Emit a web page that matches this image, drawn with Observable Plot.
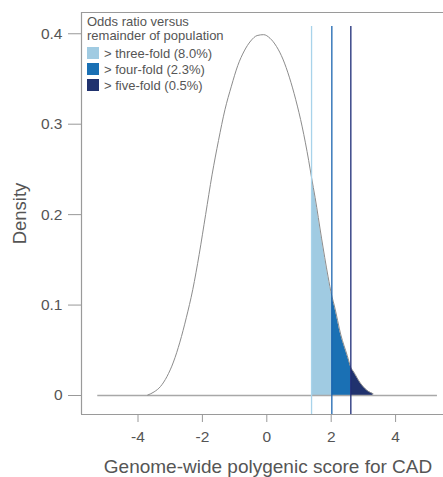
<!DOCTYPE html>
<html><head><meta charset="utf-8">
<script src="https://cdn.jsdelivr.net/npm/d3@7"></script>
<script src="https://cdn.jsdelivr.net/npm/@observablehq/plot@0.6"></script>
<style>
body{margin:0;background:#fff;font-family:"Liberation Sans",Arial,sans-serif;}
#wrap{position:relative;width:443px;height:477px;}
#legend{position:absolute;left:87px;top:15px;color:#555;font-size:13px;}
#legend .ttl{line-height:14px;white-space:nowrap;}
#legend .rows{margin-top:2px;}
#legend .row{display:flex;align-items:center;height:16px;white-space:nowrap;}
#legend .sw{width:12px;height:12px;margin-right:5px;}
svg [aria-label="x-axis tick"], svg [aria-label="y-axis tick"]{stroke:#999;}
</style></head><body><div id="wrap"></div>
<script>
// Density curve
const scoreX = [-3.7,-3.5,-3.3,-3.1,-2.9,-2.7,-2.5,-2.3,-2.1,-1.9,-1.7,-1.5,-1.3,-1.1,-0.9,-0.7,-0.5,-0.3,-0.1,0.1,0.3,0.5,0.7,0.9,1.1,1.3,1.5,1.7,1.9,2.1,2.3,2.5,2.7,2.9,3.1,3.3];
const density = [0.0005,0.004,0.010,0.021,0.037,0.059,0.086,0.117,0.156,0.200,0.244,0.282,0.316,0.342,0.365,0.381,0.392,0.398,0.399,0.395,0.386,0.372,0.352,0.327,0.297,0.260,0.219,0.174,0.132,0.099,0.067,0.044,0.026,0.014,0.006,0.002];
// Thresholds (odds-ratio cut-offs) and curve height there
const thresholdX = [1.39, 2.02, 2.61];
const thresholdDensity = [0.241, 0.110, 0.031];
const bandLabels = ["> three-fold (8.0%)", "> four-fold (2.3%)", "> five-fold (0.5%)"];
const bandFill = ["#a0cbe2", "#1a70b4", "#20326e"];
const bandLine = ["#a8d3ea", "#1c66b0", "#1d2c78"];
const legendTitle = ["Odds ratio versus", "remainder of population"];
const xTicks = [-4, -2, 0, 2, 4];
const yTicks = [0, 0.1, 0.2, 0.3, 0.4];
const xLabel = "Genome-wide polygenic score for CAD";
const yLabel = "Density";
const baselineX = [-5.25, 5.3];
const lineTop = 0.408;

const xDomain = [-5.755, 5.488];
const yDomain = [-0.021, 0.4235];

const pts = scoreX.map((x, i) => ({x, y: density[i]}))
  .concat(thresholdX.map((x, i) => ({x, y: thresholdDensity[i]})))
  .sort((a, b) => a.x - b.x);

const bandMarks = thresholdX.map((lo, i) => {
  const hi = i + 1 < thresholdX.length ? thresholdX[i + 1] : Infinity;
  return Plot.areaY(pts.filter(p => p.x >= lo && p.x <= hi), {x: "x", y: "y", fill: bandFill[i], curve: "monotone-x"});
});

const chart = Plot.plot({
  width: 443, height: 477,
  marginLeft: 81, marginRight: 0, marginTop: 12, marginBottom: 63,
  style: {fontFamily: '"Liberation Sans", Arial, sans-serif', fontSize: "15.5px", background: "#fff"},
  x: {domain: xDomain},
  y: {domain: yDomain},
  marks: [
    ...bandMarks,
    Plot.ruleY([0], {x1: baselineX[0], x2: baselineX[1], stroke: "#a8a8a8", strokeWidth: 1.6}),
    Plot.line(pts, {x: "x", y: "y", stroke: "#8c8c8c", strokeWidth: 1, curve: "monotone-x"}),
    Plot.ruleX(thresholdX, {y1: yDomain[0], y2: lineTop, stroke: (d, i) => bandLine[i], strokeWidth: 1.3}),
    Plot.ruleX([xDomain[0]], {stroke: "#9a9a9a", strokeWidth: 1.2}),
    Plot.ruleY([yDomain[0], yDomain[1]], {stroke: "#9a9a9a", strokeWidth: 1.2}),
    Plot.axisX({ticks: xTicks, tickSize: 8, tickPadding: 8, tickFormat: d => String(d), label: null, color: "#555"}),
    Plot.axisY({ticks: yTicks, tickSize: 13, tickPadding: 6, tickFormat: d => d === 0 ? "0" : d.toFixed(1), label: null, color: "#555"}),
    Plot.text([xLabel], {frameAnchor: "bottom", dx: 5.5, dy: 58.5, lineAnchor: "bottom", textAnchor: "middle", fontSize: 19, fill: "#555"}),
    Plot.text([yLabel], {frameAnchor: "left", dx: -55.3, rotate: -90, lineAnchor: "bottom", textAnchor: "middle", fontSize: 18.5, fill: "#555"})
  ]
});

const wrap = document.getElementById("wrap");
wrap.appendChild(chart);
const leg = document.createElement("div");
leg.id = "legend";
leg.innerHTML = legendTitle.map(t => `<div class="ttl">${t}</div>`).join("") +
  `<div class="rows">` + bandLabels.map((t, i) => `<div class="row"><span class="sw" style="background:${bandFill[i]}"></span><span>${t.replace(">", "&gt;")}</span></div>`).join("") + `</div>`;
wrap.appendChild(leg);
</script></body></html>
